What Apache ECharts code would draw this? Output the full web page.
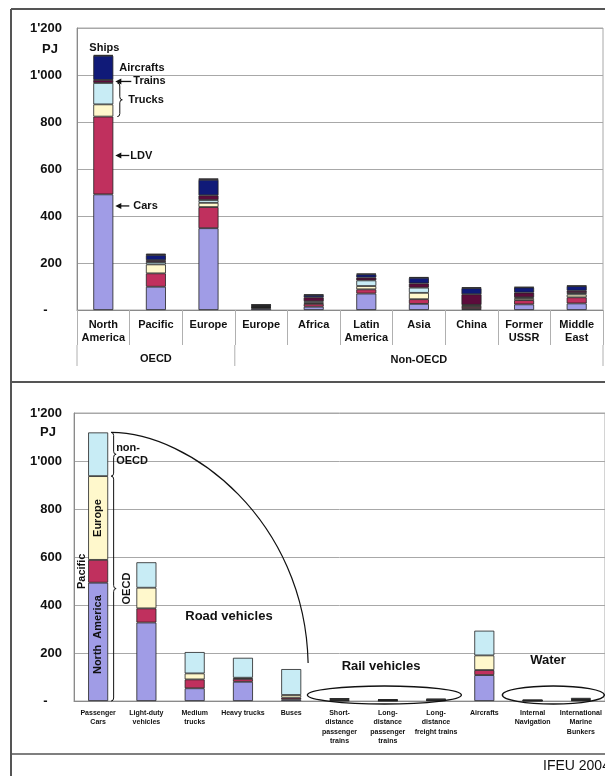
<!DOCTYPE html>
<html>
<head>
  <meta charset="UTF-8">
  <title>Transport energy demand</title>
  <script src="https://cdn.jsdelivr.net/npm/echarts@6/dist/echarts.min.js"></script>
  <style>body { margin: 0; background: #fff; }</style>
</head>
<body>
  <div id="main" style="width:605px; height:776px;"></div>
  <script>
    // ---- upper chart: energy use per region, stacked by transport mode (PJ)
    var regions = ['North\nAmerica', 'Pacific', 'Europe', 'Europe', 'Africa', 'Latin\nAmerica', 'Asia', 'China', 'Former\nUSSR', 'Middle\nEast'];
    var regionGroups = ['OECD', 'Non-OECD'];
    var modeNames = ['Cars', 'LDV', 'Medium trucks', 'Heavy trucks', 'Trains', 'Aircrafts', 'Ships'];
    var cars        = [492, 99, 348, 7, 14, 70, 26, 5, 24, 28];
    var ldv         = [331, 57, 90, 3, 12, 18, 20, 8, 18, 26];
    var mediumTrk   = [52, 38, 18, 2, 5, 14, 27, 6, 8, 12];
    var heavyTrk    = [91, 10, 12, 2, 6, 24, 22, 3, 4, 6];
    var trains      = [13, 8, 20, 3, 17, 12, 18, 45, 20, 10];
    var aircrafts   = [103, 22, 66, 5, 10, 14, 24, 26, 22, 20];
    var ships       = [3, 6, 6, 1, 2, 3, 3, 4, 2, 2];

    // ---- lower chart: energy use per vehicle type, stacked by region (PJ)
    var vehicles = ['Passenger\nCars', 'Light-duty\nvehicles', 'Medium\ntrucks', 'Heavy trucks', 'Buses',
      'Short-\ndistance\npassenger\ntrains', 'Long-\ndistance\npassenger\ntrains', 'Long-\ndistance\nfreight trains',
      'Aircrafts', 'Internal\nNavigation', 'International\nMarine\nBunkers'];
    var regionNames = ['North America', 'Pacific', 'Europe', 'non-OECD'];
    var northAmerica = [493, 327, 53, 80, 7, 2, 1, 3, 108, 1, 3];
    var pacific      = [95, 59, 37, 12, 7, 3, 2, 1, 21, 1, 2];
    var europe       = [349, 86, 25, 5, 11, 4, 2, 2, 61, 1, 3];
    var nonOecd      = [182, 106, 89, 83, 108, 2, 2, 4, 103, 2, 5];

    var yTickLabels = ['-    ', '200', '400', '600', '800', "1'000", "1'200"];

    var font = 'Arial, "Liberation Sans", sans-serif';
    var ink = '#111';
    var modeColors = ['#a09ce6', '#c0305e', '#fff8cc', '#c8ecf5', '#5c0c3c', '#101a78', '#2b1030'];
    var regionColors = ['#a09ce6', '#c0305e', '#fff8cc', '#c8ecf5'];

    var chart = echarts.init(document.getElementById('main'), null, {renderer: 'canvas'});

    function yAxis(gi, margin) {
      return {
        type: 'value', gridIndex: gi, min: 0, max: 1200, interval: 200,
        axisLine: {show: true, lineStyle: {color: '#8a8a8a'}},
        axisTick: {show: false},
        splitLine: {lineStyle: {color: '#a8a8a8', width: 1}},
        axisLabel: {
          margin: margin, fontFamily: font, fontWeight: 'bold', fontSize: 13, color: ink,
          formatter: function (v) { return yTickLabels[Math.round(v / 200)]; }
        }
      };
    }

    var series = [];
    [cars, ldv, mediumTrk, heavyTrk, trains, aircrafts, ships].forEach(function (d, i) {
      series.push({
        name: modeNames[i], type: 'bar', stack: 'modes', xAxisIndex: 0, yAxisIndex: 0,
        data: d, barWidth: 20,
        itemStyle: {color: modeColors[i], borderColor: '#222', borderWidth: 0.8}
      });
    });
    [northAmerica, pacific, europe, nonOecd].forEach(function (d, i) {
      series.push({
        name: regionNames[i], type: 'bar', stack: 'regions', xAxisIndex: 1, yAxisIndex: 1,
        data: d, barWidth: 20,
        itemStyle: {color: regionColors[i], borderColor: '#222', borderWidth: 0.8}
      });
    });

    chart.setOption({
      animation: false,
      backgroundColor: '#fff',
      grid: [
        {left: 77, top: 28, width: 526, height: 282, show: true, borderColor: '#a8a8a8', borderWidth: 1, outerBoundsMode: 'none'},
        {left: 74, top: 413, width: 531, height: 288, show: true, borderColor: '#a8a8a8', borderWidth: 1, outerBoundsMode: 'none'}
      ],
      xAxis: [
        {
          type: 'category', gridIndex: 0, data: regions,
          axisLine: {lineStyle: {color: '#8a8a8a'}},
          axisTick: {show: true, interval: 0, length: 35, lineStyle: {color: '#b0b0b0'}},
          axisLabel: {interval: 0, margin: 8, fontFamily: font, fontWeight: 'bold', fontSize: 11, lineHeight: 13, color: ink}
        },
        {
          type: 'category', gridIndex: 1, data: vehicles,
          axisLine: {lineStyle: {color: '#8a8a8a'}},
          axisTick: {show: false},
          axisLabel: {interval: 0, margin: 7, fontFamily: font, fontWeight: 'bold', fontSize: 7, lineHeight: 9.5, color: ink}
        }
      ],
      yAxis: [yAxis(0, 15), yAxis(1, 12)],
      series: series
    });

    // ---- annotations, anchored to the axes
    function pt(g, c, v) { return chart.convertToPixel({xAxisIndex: g, yAxisIndex: g}, [c, v]); }
    function colX(g, c) { var a = pt(g, 0, 0)[0], b = pt(g, 1, 0)[0]; return a + c * (b - a); }
    function valY(g, v) { return pt(g, 0, v)[1]; }

    function txt(x, y, s, o) {
      o = o || {};
      return {
        type: 'text', x: x, y: y, z: 50, rotation: o.rot || 0, silent: true,
        style: {
          text: s, fill: ink, font: (o.weight || 'bold') + ' ' + (o.size || 11) + 'px ' + font,
          align: o.align || 'left', verticalAlign: o.valign || 'middle', lineHeight: o.lh || 13
        }
      };
    }
    function line(x1, y1, x2, y2, w, col) {
      return {type: 'line', z: 50, silent: true, shape: {x1: x1, y1: y1, x2: x2, y2: y2},
        style: {stroke: col || ink, lineWidth: w || 1}};
    }
    function arrow(x, y, len) {
      return [
        line(x + 4, y, x + len, y, 1.3),
        {type: 'polygon', z: 50, silent: true, shape: {points: [[x, y], [x + 6, y - 3], [x + 6, y + 3]]}, style: {fill: ink}}
      ];
    }
    function quad(x1, y1, cx, cy, x2, y2) {
      return {type: 'bezierCurve', z: 50, silent: true, shape: {x1: x1, y1: y1, cpx1: cx, cpy1: cy, x2: x2, y2: y2},
        style: {stroke: ink, lineWidth: 1, fill: null}};
    }
    function brace(x, yTop, yBot, w) {
      var h = w / 2, m = (yTop + yBot) / 2, r = Math.min(3, (yBot - yTop) / 4);
      return [
        quad(x, yTop, x + h, yTop, x + h, yTop + r),
        line(x + h, yTop + r, x + h, m - r),
        quad(x + h, m - r, x + h, m, x + w, m),
        quad(x + w, m, x + h, m, x + h, m + r),
        line(x + h, m + r, x + h, yBot - r),
        quad(x + h, yBot - r, x + h, yBot, x, yBot)
      ];
    }
    function ellipse(cx, cy, rx, ry) {
      return {type: 'ellipse', z: 50, silent: true, shape: {cx: cx, cy: cy, rx: rx, ry: ry},
        style: {stroke: ink, lineWidth: 1.4, fill: null}};
    }

    var g = [];
    // page frame
    g.push(line(11, 9, 605, 9, 2, '#555'));
    g.push(line(11, 9, 11, 776, 2, '#555'));
    g.push(line(11, 382, 605, 382, 2, '#555'));
    g.push(line(11, 754, 605, 754, 1.5, '#555'));
    g.push(txt(543, 766, 'IFEU 2004', {weight: 'normal', size: 14}));

    // upper chart: unit, group labels, long separators
    var y0 = valY(0, 0);
    g.push(txt(50, valY(0, 1110), 'PJ', {size: 13, align: 'center'}));
    [-0.5, 2.5, 9.5].forEach(function (c) { g.push(line(colX(0, c), y0 + 35, colX(0, c), y0 + 56, 1, '#b0b0b0')); });
    g.push(txt(colX(0, 1), y0 + 49, regionGroups[0], {align: 'center'}));
    g.push(txt(colX(0, 6), y0 + 50, regionGroups[1], {align: 'center'}));

    // upper chart: mode labels next to the North America bar
    var na = [cars[0], ldv[0], mediumTrk[0], heavyTrk[0], trains[0], aircrafts[0], ships[0]];
    var cum = [];
    na.reduce(function (s, v, i) { cum[i] = s + v; return cum[i]; }, 0);
    var bx0 = colX(0, 0), br0 = bx0 + 10;
    g.push(txt(bx0 + 1, valY(0, cum[6]) - 1, 'Ships', {align: 'center', valign: 'bottom'}));
    g.push(txt(br0 + 6, valY(0, (cum[4] + cum[5]) / 2), 'Aircrafts'));
    var yTr = valY(0, (cum[3] + cum[4]) / 2);
    g = g.concat(arrow(br0 + 2, yTr, 16));
    g.push(txt(br0 + 20, yTr, 'Trains'));
    g = g.concat(brace(br0 + 4, valY(0, cum[3]), valY(0, cum[1]), 5));
    g.push(txt(br0 + 15, valY(0, (cum[1] + cum[3]) / 2), 'Trucks'));
    var yLdv = valY(0, (cum[0] + cum[1]) / 2);
    g = g.concat(arrow(br0 + 2, yLdv, 14));
    g.push(txt(br0 + 17, yLdv, 'LDV'));
    var yCars = valY(0, cum[0] * 0.9);
    g = g.concat(arrow(br0 + 2, yCars, 14));
    g.push(txt(br0 + 20, yCars, 'Cars'));

    // lower chart: unit and region labels on the passenger car bar
    g.push(txt(48, valY(1, 1118), 'PJ', {size: 13, align: 'center'}));
    var pNa = northAmerica[0], pPac = pacific[0], pEur = europe[0], pNon = nonOecd[0];
    var oecd = pNa + pPac + pEur, total = oecd + pNon;
    var bx1 = colX(1, 0), br1 = bx1 + 10;
    var yTot = valY(1, total), yOecd = valY(1, oecd), yBase = valY(1, 0);
    g = g.concat(brace(br1 + 3, yTot, yOecd, 5));
    g.push(txt(br1 + 8, (yTot + yOecd) / 2, 'non-\nOECD'));
    g = g.concat(brace(br1 + 3, yOecd, yBase, 5));
    g.push(txt(br1 + 19, (yOecd + yBase) / 2, 'OECD', {rot: Math.PI / 2, align: 'center'}));
    g.push(txt(bx1, valY(1, pNa + pPac + pEur / 2), 'Europe', {rot: Math.PI / 2, align: 'center'}));
    g.push(txt(bx1 - 16, valY(1, pNa + pPac / 2), 'Pacific', {rot: Math.PI / 2, align: 'center'}));
    g.push(txt(bx1, valY(1, pNa / 2 + 30), 'North  America', {rot: Math.PI / 2, align: 'center'}));

    // arc from the passenger car bar down to the buses
    var sx = br1 + 3, sy = yTot, ex = colX(1, 4.35), ey = valY(1, 158);
    g.push({type: 'bezierCurve', z: 50, silent: true,
      shape: {x1: sx, y1: sy, cpx1: sx + 0.4 * (ex - sx), cpy1: sy, cpx2: ex - 0.015 * (ex - sx), cpy2: sy + 0.38 * (ey - sy), x2: ex, y2: ey},
      style: {stroke: ink, lineWidth: 1.2, fill: null}});

    // group captions and ellipses
    g.push(txt(colX(1, 2.71), valY(1, 354), 'Road vehicles', {size: 13, align: 'center'}));
    g.push(txt(colX(1, 5.86), valY(1, 142), 'Rail vehicles', {size: 13, align: 'center'}));
    g.push(ellipse(colX(1, 5.93), valY(1, 25), 77, 9));
    g.push(txt(colX(1, 9.32), valY(1, 167), 'Water', {size: 13, align: 'center'}));
    g.push(ellipse(colX(1, 9.43), valY(1, 25), 51, 9));

    chart.setOption({graphic: g});
  </script>
</body>
</html>
